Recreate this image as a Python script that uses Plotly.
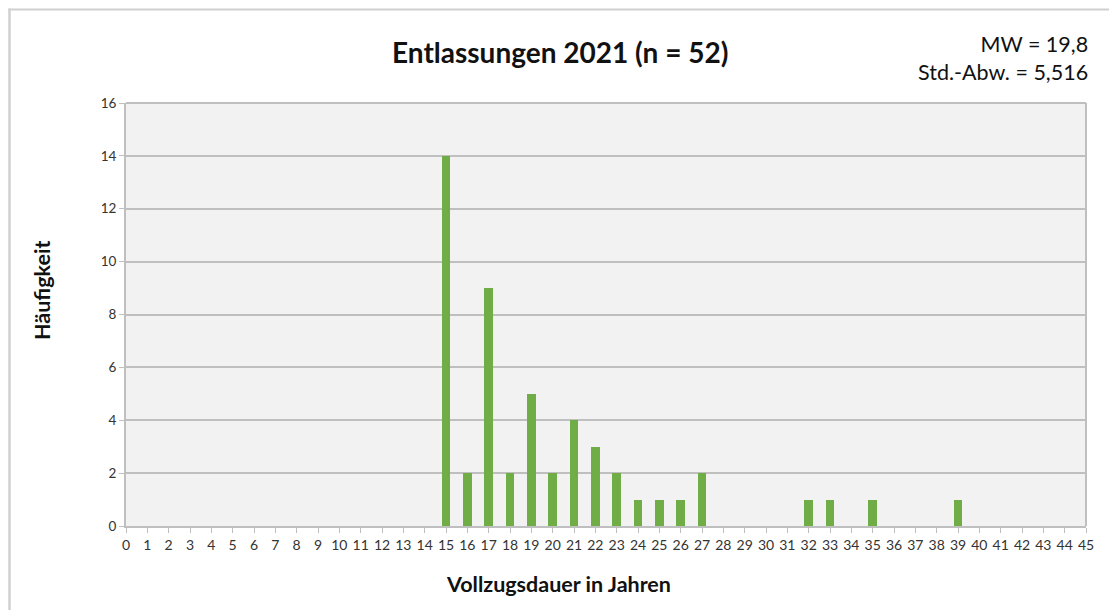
import plotly.graph_objects as go

years = [15, 16, 17, 18, 19, 20, 21, 22, 23, 24, 25, 26, 27, 32, 33, 35, 39]
counts = [14, 2, 9, 2, 5, 2, 4, 3, 2, 1, 1, 1, 2, 1, 1, 1, 1]
x_ticks = list(range(0, 46))
title_text = "Entlassungen 2021 (n = 52)"
stats_text = "MW = 19,8<br>Std.-Abw. = 5,516"
x_title = "Vollzugsdauer in Jahren"
y_title = "Häufigkeit"

# page has an 8px body margin; figure coordinates = page coordinates - 8
OFF = 8
W, H = 1117 - OFF, 610 - OFF
L = 126 - OFF
T = 103 - OFF
R = W - (1086 - OFF)
B = H - (526 - OFF)
pw, ph = W - L - R, H - T - B

def px_to_paper_x(px):
    return (px - OFF - L) / pw

def px_to_paper_y(py):
    return (H - B - (py - OFF)) / ph

fig = go.Figure()
fig.add_trace(go.Bar(x=years, y=counts, width=0.42, marker=dict(color="#70ad47", line=dict(width=0))))

fig.update_layout(
    width=W, height=H,
    margin=dict(l=L, r=R, t=T, b=B),
    paper_bgcolor="white",
    plot_bgcolor="#f2f2f2",
    font=dict(family="Lato, 'Open Sans', sans-serif", color="#222"),
    showlegend=False,
    bargap=0,
)

fig.update_xaxes(
    range=[0, 45], tickmode="array", tickvals=x_ticks, ticktext=[str(v) for v in x_ticks],
    showgrid=False, zeroline=False,
    showline=True, linecolor="#bfbfbf", linewidth=2, mirror=False,
    ticks="outside", ticklen=5, tickcolor="#bfbfbf", tickwidth=1,
    tickfont=dict(size=14, color="#333"),
)
fig.update_yaxes(
    range=[0, 16], dtick=2, tick0=0,
    showgrid=True, gridcolor="#bfbfbf", gridwidth=1.5, zeroline=False,
    showline=True, linecolor="#bfbfbf", linewidth=2,
    ticks="outside", ticklen=5, tickcolor="#bfbfbf",
    tickfont=dict(size=13.5, color="#333"),
)

# right and top plot border
fig.add_shape(type="line", xref="paper", yref="paper", x0=1, x1=1, y0=0, y1=1,
              line=dict(color="#bfbfbf", width=2))
fig.add_shape(type="line", xref="paper", yref="paper", x0=0, x1=1, y0=1, y1=1,
              line=dict(color="#bfbfbf", width=2))

# outer chart frame (left and top), as close to the page corner as the figure allows
fx = OFF + 1.5
fy = OFF + 1.5
fig.add_shape(type="line", xref="paper", yref="paper",
              x0=px_to_paper_x(fx), x1=px_to_paper_x(fx), y0=px_to_paper_y(fy - 1), y1=px_to_paper_y(640),
              line=dict(color="#d0d0d0", width=2.5))
fig.add_shape(type="line", xref="paper", yref="paper",
              x0=px_to_paper_x(fx - 1), x1=px_to_paper_x(1140), y0=px_to_paper_y(fy), y1=px_to_paper_y(fy),
              line=dict(color="#d0d0d0", width=2))

fig.add_annotation(text="<b>" + title_text + "</b>", xref="paper", yref="paper",
                   x=px_to_paper_x(560), y=px_to_paper_y(52), xanchor="center", yanchor="middle",
                   showarrow=False, font=dict(size=28, color="#111"))
fig.add_annotation(text=stats_text, xref="paper", yref="paper",
                   x=px_to_paper_x(1090), y=px_to_paper_y(58), xanchor="right", yanchor="middle",
                   align="right", showarrow=False, font=dict(size=21.5, color="#111"))
fig.add_annotation(text="<b>" + x_title + "</b>", xref="paper", yref="paper",
                   x=px_to_paper_x(558), y=px_to_paper_y(584), xanchor="center", yanchor="middle",
                   showarrow=False, font=dict(size=21.5, color="#111"))
fig.add_annotation(text="<b>" + y_title + "</b>", xref="paper", yref="paper",
                   x=px_to_paper_x(42), y=px_to_paper_y(291), xanchor="center", yanchor="middle",
                   textangle=-90, showarrow=False, font=dict(size=21.5, color="#111"))

fig.write_html("out.html")
